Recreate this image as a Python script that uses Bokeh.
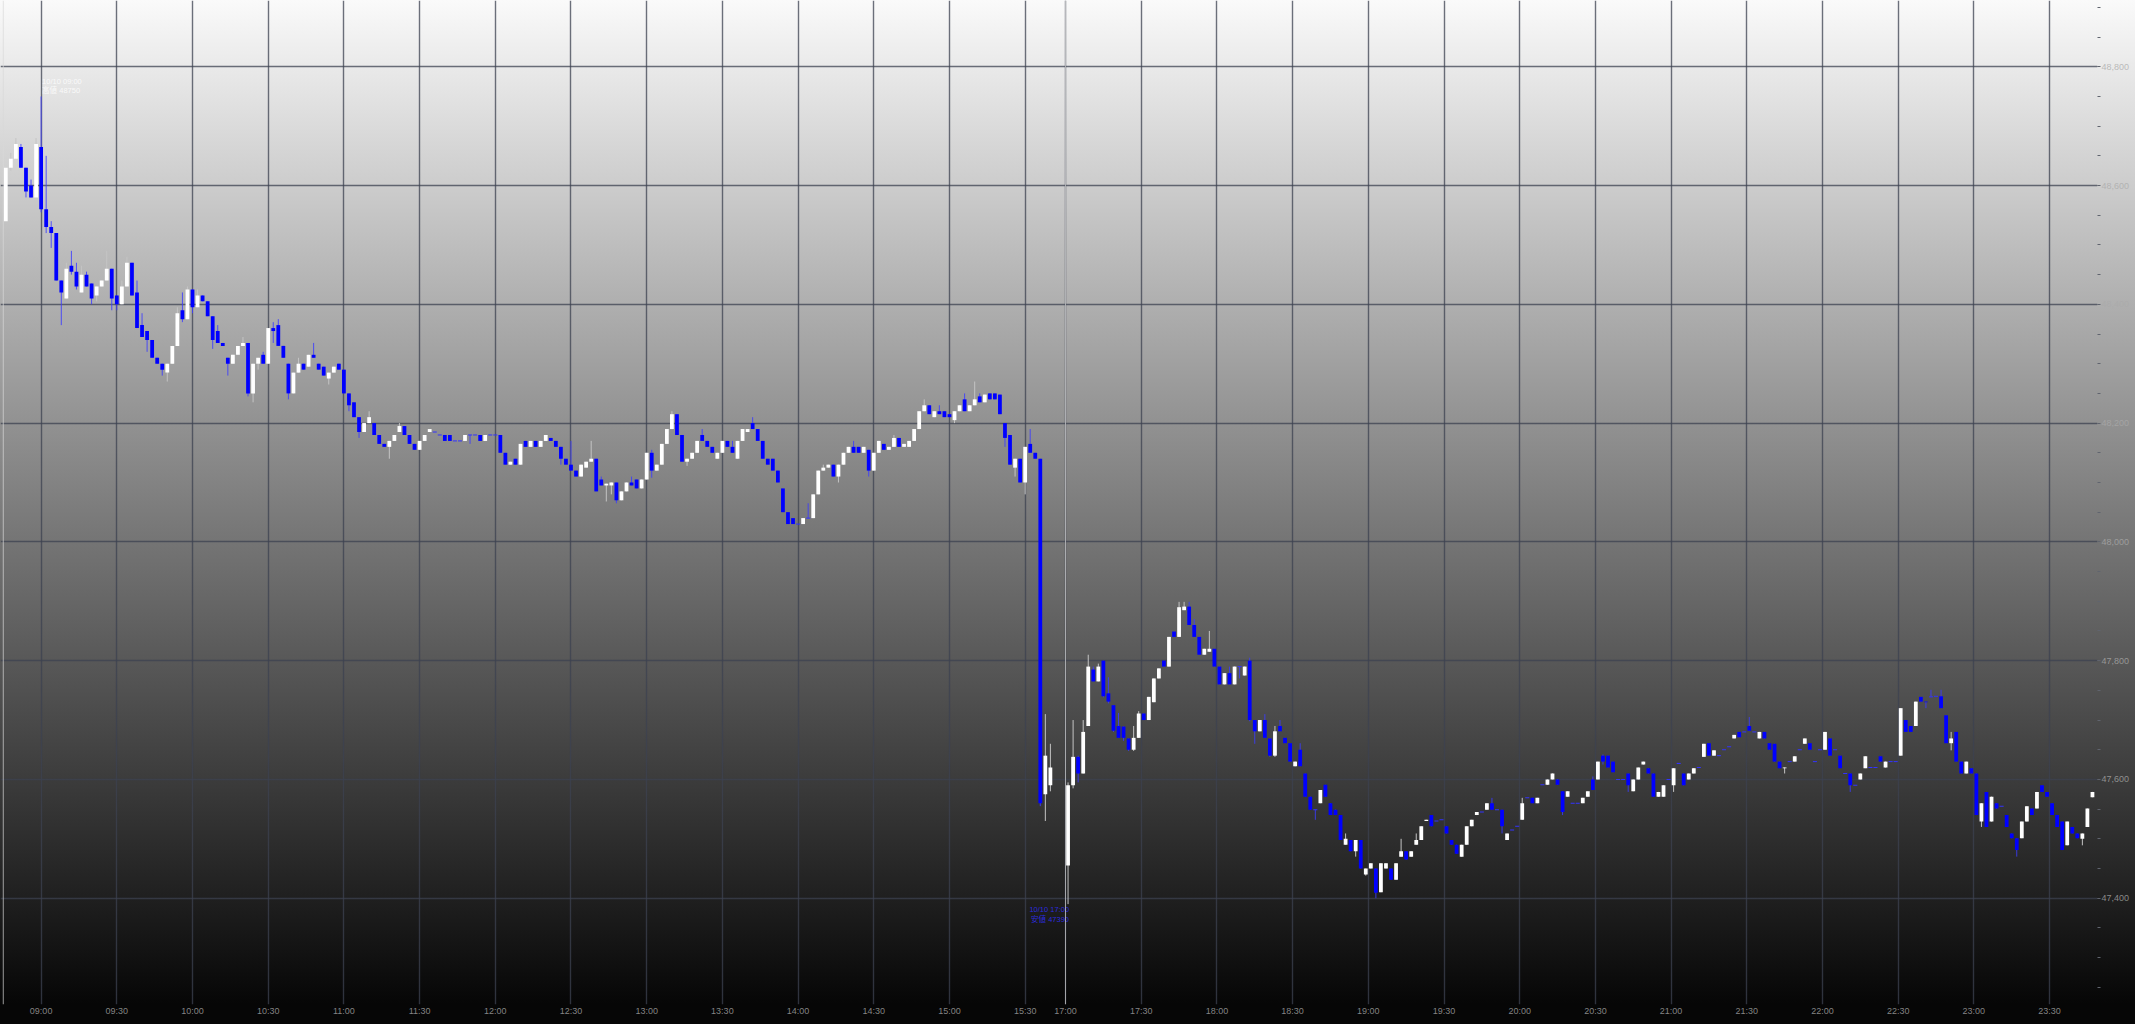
from bokeh.plotting import figure
from bokeh.models import (ColumnDataSource, Range1d, FixedTicker, SingleIntervalTicker,
                          NumeralTickFormatter, Span, GlobalInlineStyleSheet)
from bokeh.core.properties import value
from bokeh.embed import file_html
from bokeh.resources import INLINE

# ---------------- data (2-minute bars) ----------------
# day session 08:45 - 15:40, bar k covers minutes 2k..2k+1 after 08:45
day_open = [
    48540, 48630, 48645, 48665, 48630, 48600, 48580, 48665, 48560, 48530,
    48520, 48440, 48410, 48465, 48455, 48420, 48450, 48435, 48415, 48430,
    48440, 48460, 48415, 48400, 48430, 48470, 48420, 48365, 48355, 48340,
    48310, 48300, 48285, 48300, 48330, 48390, 48375, 48425, 48395, 48415,
    48405, 48380, 48355, 48335, 48310, 48300, 48315, 48330, 48335, 48250,
    48300, 48315, 48300, 48360, 48365, 48330, 48300, 48250, 48285, 48300,
    48295, 48315, 48300, 48295, 48275, 48285, 48300, 48290, 48250, 48235,
    48210, 48185, 48200, 48200, 48180, 48165, 48160, 48170, 48185, 48195,
    48180, 48165, 48155, 48170, 48185, 48185, 48180, 48180, 48180, 48170,
    48170, 48170, 48180, 48180, 48180, 48170, 48180, 48180, 48180, 48150,
    48130, 48140, 48130, 48170, 48160, 48170, 48160, 48170, 48175, 48170,
    48160, 48140, 48130, 48120, 48110, 48125, 48135, 48140, 48105, 48095,
    48095, 48100, 48070, 48085, 48100, 48105, 48090, 48105, 48150, 48120,
    48130, 48165, 48190, 48215, 48180, 48135, 48140, 48150, 48180, 48170,
    48160, 48140, 48150, 48170, 48160, 48140, 48170, 48185, 48200, 48190,
    48170, 48140, 48140, 48120, 48090, 48050, 48040, 48030, 48030, 48040,
    48040, 48080, 48120, 48125, 48130, 48110, 48130, 48150, 48160, 48160,
    48150, 48155, 48120, 48150, 48165, 48155, 48160, 48175, 48160, 48160,
    48170, 48190, 48220, 48230, 48210, 48220, 48220, 48215, 48205, 48220,
    48240, 48220, 48230, 48245, 48235, 48250, 48250, 48248, 48200, 48180,
    48125, 48140, 48100, 48165, 48150, 48140, 47575, 47590,
]
day_close = [
    48630, 48645, 48670, 48630, 48590, 48580, 48670, 48560, 48530, 48520,
    48440, 48420, 48460, 48455, 48430, 48450, 48430, 48410, 48430, 48440,
    48460, 48410, 48400, 48430, 48470, 48415, 48360, 48345, 48340, 48310,
    48300, 48290, 48300, 48330, 48385, 48375, 48425, 48395, 48415, 48405,
    48380, 48340, 48335, 48330, 48300, 48315, 48330, 48335, 48250, 48300,
    48310, 48300, 48360, 48355, 48330, 48310, 48250, 48285, 48300, 48290,
    48315, 48310, 48290, 48280, 48285, 48295, 48290, 48250, 48230, 48210,
    48185, 48200, 48210, 48180, 48165, 48160, 48170, 48180, 48195, 48180,
    48165, 48155, 48170, 48180, 48190, 48185, 48180, 48170, 48170, 48170,
    48170, 48180, 48180, 48180, 48170, 48180, 48180, 48180, 48150, 48130,
    48135, 48130, 48165, 48160, 48170, 48160, 48170, 48180, 48170, 48160,
    48140, 48130, 48120, 48110, 48130, 48135, 48140, 48085, 48095, 48098,
    48100, 48070, 48085, 48100, 48095, 48090, 48105, 48150, 48120, 48130,
    48165, 48190, 48215, 48180, 48135, 48140, 48150, 48170, 48170, 48160,
    48150, 48150, 48170, 48160, 48150, 48170, 48190, 48190, 48190, 48170,
    48140, 48130, 48120, 48100, 48050, 48030, 48030, 48030, 48040, 48040,
    48080, 48120, 48125, 48130, 48110, 48130, 48150, 48160, 48150, 48150,
    48160, 48120, 48150, 48170, 48155, 48160, 48175, 48160, 48165, 48170,
    48190, 48220, 48230, 48215, 48220, 48215, 48210, 48210, 48220, 48230,
    48220, 48230, 48240, 48235, 48248, 48240, 48240, 48215, 48175, 48130,
    48140, 48100, 48160, 48150, 48140, 47560, 47640, 47620,
]
# wick extremes beyond the body (bar index -> price)
day_high_wick = {1: 48655, 2: 48680, 3: 48670, 5: 48610, 6: 48680, 7: 48750, 8: 48650,
                 9: 48540, 12: 48470, 13: 48490, 14: 48470, 15: 48465, 16: 48455, 20: 48490,
                 23: 48440, 24: 48480, 26: 48440, 27: 48385, 34: 48395, 35: 48420, 36: 48430,
                 38: 48425, 42: 48365, 47: 48345, 51: 48320, 53: 48370, 54: 48375, 58: 48310,
                 61: 48335, 72: 48220, 78: 48200, 112: 48170, 116: 48170, 118: 48110,
                 124: 48110, 128: 48155, 132: 48220, 138: 48190, 144: 48170, 148: 48210,
                 159: 48065, 162: 48130, 168: 48170, 176: 48180, 182: 48240, 185: 48230,
                 190: 48250, 192: 48270, 193: 48250, 203: 48190, 206: 47710, 207: 47660}
day_low_wick = {0: 48535, 1: 48625, 4: 48580, 7: 48555, 8: 48520, 9: 48495, 11: 48365,
                13: 48450, 14: 48425, 17: 48400, 18: 48405, 21: 48390, 22: 48390, 28: 48320,
                31: 48280, 32: 48270, 35: 48370, 37: 48385, 41: 48325, 44: 48280, 48: 48245,
                49: 48235, 50: 48290, 53: 48335, 56: 48240, 64: 48265, 68: 48220, 70: 48175,
                76: 48140, 92: 48165, 110: 48130, 119: 48068, 120: 48080, 121: 48065,
                128: 48108, 135: 48128, 165: 48100, 171: 48110, 188: 48200, 198: 48160,
                200: 48110, 202: 48080, 205: 47555, 206: 47530, 207: 47580}

# night session 17:00 - 23:47, bar j covers minutes 2j..2j+1 after 17:00
night_open = [
    47455, 47590, 47638, 47610, 47690, 47785, 47765, 47800, 47745, 47725,
    47690, 47689, 47669, 47650, 47670, 47711, 47700, 47730, 47770, 47800,
    47790, 47849, 47840, 47885, 47891, 47860, 47840, 47810, 47815, 47820,
    47790, 47760, 47779, 47760, 47790, 47775, 47800, 47700, 47681, 47700,
    47669, 47640, 47690, 47670, 47661, 47622, 47650, 47610, 47571, 47549,
    47560, 47591, 47560, 47549, 47540, 47490, 47498, 47479, 47498, 47440,
    47450, 47450, 47410, 47450, 47450, 47431, 47470, 47479, 47470, 47490,
    47498, 47530, 47540, 47530, 47532, 47521, 47498, 47490, 47470, 47490,
    47521, 47540, 47545, 47549, 47560, 47549, 47549, 47498, 47515, 47521,
    47532, 47569, 47569, 47560, 47591, 47591, 47600, 47600, 47580, 47571,
    47560, 47560, 47560, 47571, 47600, 47600, 47640, 47640, 47630, 47600,
    47600, 47610, 47580, 47600, 47625, 47619, 47610, 47571, 47571, 47600,
    47590, 47627, 47610, 47600, 47610, 47620, 47638, 47661, 47640, 47640,
    47650, 47655, 47669, 47680, 47680, 47690, 47680, 47669, 47680, 47661,
    47660, 47630, 47619, 47630, 47630, 47650, 47660, 47661, 47630, 47650,
    47650, 47669, 47650, 47640, 47610, 47610, 47590, 47600, 47619, 47620,
    47620, 47639, 47620, 47630, 47630, 47640, 47700, 47690, 47690, 47739,
    47731, 47739, 47740, 47740, 47708, 47661, 47680, 47630, 47610, 47619,
    47610, 47529, 47579, 47529, 47560, 47555, 47540, 47509, 47501, 47501,
    47529, 47551, 47551, 47590, 47579, 47560, 47540, 47529, 47489, 47520,
    47509, 47500, 47520, 47570,
]
night_close = [
    47590, 47638, 47610, 47680, 47790, 47765, 47790, 47740, 47731, 47682,
    47670, 47670, 47650, 47670, 47711, 47700, 47739, 47770, 47787, 47790,
    47840, 47840, 47890, 47891, 47860, 47840, 47810, 47820, 47820, 47790,
    47760, 47779, 47760, 47790, 47790, 47790, 47700, 47681, 47700, 47670,
    47640, 47681, 47681, 47661, 47630, 47630, 47622, 47571, 47549, 47549,
    47582, 47571, 47540, 47540, 47498, 47500, 47479, 47498, 47450, 47450,
    47459, 47409, 47459, 47459, 47431, 47459, 47479, 47465, 47479, 47498,
    47521, 47532, 47521, 47530, 47532, 47509, 47490, 47475, 47490, 47521,
    47532, 47545, 47545, 47560, 47549, 47549, 47521, 47509, 47515, 47521,
    47560, 47569, 47560, 47569, 47591, 47600, 47610, 47591, 47545, 47580,
    47560, 47560, 47569, 47580, 47582, 47630, 47630, 47620, 47612, 47600,
    47600, 47590, 47600, 47620, 47630, 47610, 47571, 47579, 47590, 47600,
    47619, 47627, 47590, 47610, 47619, 47620, 47660, 47640, 47649, 47640,
    47650, 47655, 47675, 47671, 47680, 47682, 47680, 47680, 47669, 47650,
    47630, 47619, 47620, 47630, 47639, 47650, 47669, 47650, 47630, 47650,
    47680, 47640, 47650, 47619, 47610, 47590, 47590, 47610, 47639, 47620,
    47620, 47630, 47630, 47630, 47630, 47720, 47680, 47680, 47731, 47731,
    47730, 47739, 47740, 47720, 47661, 47669, 47630, 47610, 47630, 47610,
    47540, 47560, 47520, 47571, 47551, 47555, 47520, 47501, 47481, 47529,
    47555, 47540, 47579, 47579, 47571, 47540, 47520, 47481, 47529, 47509,
    47501, 47509, 47551, 47579,
]
night_high_wick = {0: 47595, 1: 47700, 2: 47640, 3: 47700, 4: 47810, 5: 47790, 6: 47795,
                   8: 47772, 10: 47712, 13: 47690, 14: 47715, 22: 47899, 23: 47899, 24: 47899,
                   25: 47870, 28: 47850, 32: 47790, 36: 47805, 39: 47710, 41: 47690, 42: 47700,
                   46: 47661, 55: 47509, 66: 47500, 69: 47509, 84: 47569, 90: 47569,
                   104: 47605, 106: 47642, 135: 47705, 171: 47751, 173: 47751, 175: 47680}
night_low_wick = {0: 47390, 1: 47585, 2: 47595, 7: 47738, 8: 47728, 9: 47680, 11: 47665,
                  12: 47648, 13: 47648, 34: 47770, 36: 47698, 37: 47660, 40: 47638, 41: 47638,
                  49: 47532, 57: 47470, 59: 47438, 61: 47400, 86: 47509, 98: 47540, 106: 47625,
                  111: 47579, 120: 47579, 142: 47610, 155: 47579, 170: 47720, 175: 47649,
                  181: 47520, 188: 47470, 201: 47489}

# time axis: minutes on a session-compressed scale (08:45 = 0, 17:00 = 421)
day_start_pos = 0
night_start_pos = 421
tick_labels = ["09:00", "09:30", "10:00", "10:30", "11:00", "11:30", "12:00", "12:30",
               "13:00", "13:30", "14:00", "14:30", "15:00", "15:30",
               "17:00", "17:30", "18:00", "18:30", "19:00", "19:30", "20:00", "20:30",
               "21:00", "21:30", "22:00", "22:30", "23:00", "23:30"]
tick_pos = [15 + 30 * i for i in range(14)] + [421 + 30 * i for i in range(14)]

high_note = ["10/10 09:00\n高値 48750"]
low_note = ["10/10 17:00\n安値 47390"]

# ---------------- build candles ----------------
up = dict(x=[], top=[], bottom=[])
down = dict(x=[], top=[], bottom=[])
doji = dict(x=[], y=[])
wick_up = dict(x=[], y0=[], y1=[])
wick_dn = dict(x=[], y0=[], y1=[])


def add_session(opens, closes, hw, lw, start):
    for i, (o, c) in enumerate(zip(opens, closes)):
        x = start + 2 * i + 1
        hi = max(o, c, hw.get(i, o))
        lo = min(o, c, lw.get(i, o))
        w = wick_up if c > o else wick_dn
        if hi > lo:
            w["x"].append(x); w["y0"].append(lo); w["y1"].append(hi)
        if c > o:
            up["x"].append(x); up["top"].append(c); up["bottom"].append(o)
        elif c < o:
            down["x"].append(x); down["top"].append(o); down["bottom"].append(c)
        else:
            doji["x"].append(x); doji["y"].append(o)


add_session(day_open, day_close, day_high_wick, day_low_wick, day_start_pos)
add_session(night_open, night_close, night_high_wick, night_low_wick, night_start_pos)

# ---------------- figure ----------------
p = figure(frame_width=2097, frame_height=1004,
           x_range=Range1d(-1.1, 830), y_range=Range1d(47221, 48911.6),
           output_backend="svg", toolbar_location=None, y_axis_location="right",
           min_border_left=0, min_border_top=0, min_border_right=38, min_border_bottom=20,
           background_fill_alpha=0, border_fill_alpha=0, outline_line_color=None)

grad = "linear-gradient(180deg, #fafafa 0px, #7e7e7e 502px, #060606 1004px, #060606 1030px)"
p.stylesheets = [GlobalInlineStyleSheet(
    css="html,body{overflow:hidden;} html{background:#060606 " + grad + " no-repeat;} "
        "body{background:transparent;}")]
p.styles = {"background": grad}

grid_color = "#3c4150"
p.xgrid.ticker = FixedTicker(ticks=tick_pos)
p.xgrid.grid_line_color = grid_color
p.xgrid.grid_line_alpha = 0.75
p.xgrid.grid_line_width = 1.4
p.ygrid.ticker = SingleIntervalTicker(interval=200)
p.ygrid.grid_line_color = grid_color
p.ygrid.grid_line_alpha = 0.75
p.ygrid.grid_line_width = 1.4

for loc in (day_start_pos, night_start_pos):
    p.add_layout(Span(location=loc, dimension="height", line_color="#d8d8d8",
                      line_alpha=0.7, line_width=1))

# axes
xa = p.xaxis[0]
xa.ticker = FixedTicker(ticks=tick_pos)
xa.major_label_overrides = {pos: lab for pos, lab in zip(tick_pos, tick_labels)}
xa.axis_line_color = None
xa.major_tick_line_color = None
xa.minor_tick_line_color = None
xa.major_tick_in = 0
xa.major_tick_out = 0
xa.minor_tick_out = 0
xa.major_label_text_color = "#aaaaaa"
xa.major_label_text_alpha = 0.78
xa.major_label_text_font = "Liberation Sans"
xa.major_label_text_font_size = "9px"
xa.major_label_standoff = 1

ya = p.yaxis[0]
ya.ticker = SingleIntervalTicker(interval=200, num_minor_ticks=4)
ya.formatter = NumeralTickFormatter(format="0,0")
ya.axis_line_color = None
ya.major_tick_line_color = "#60646e"
ya.minor_tick_line_color = "#60646e"
ya.major_tick_in = 0
ya.major_tick_out = 2
ya.minor_tick_in = 0
ya.minor_tick_out = 3
ya.major_label_text_color = "#aaaaaa"
ya.major_label_text_alpha = 0.78
ya.major_label_text_font = "Liberation Sans"
ya.major_label_text_font_size = "9px"
ya.major_label_standoff = 1

# candles
p.segment(x0="x", y0="y0", x1="x", y1="y1", source=ColumnDataSource(wick_up),
          line_color="#c4c4c4", line_width=1)
p.segment(x0="x", y0="y0", x1="x", y1="y1", source=ColumnDataSource(wick_dn),
          line_color="#3c3cff", line_alpha=0.85, line_width=1)
p.vbar(x="x", top="top", bottom="bottom", width=1.5, source=ColumnDataSource(up),
       fill_color="#ffffff", line_color=None)
p.vbar(x="x", top="top", bottom="bottom", width=1.5, source=ColumnDataSource(down),
       fill_color="#0000ff", line_color=None)
p.rect(x="x", y="y", width=1.6, height=1, height_units="screen",
       source=ColumnDataSource(doji), fill_color="#3333ff", line_color=None)

# annotations
p.text(x=[day_start_pos + 15], y=[48750], text=high_note, text_color="#ffffff", text_alpha=0.8,
       text_font=value("Liberation Sans, Noto Sans CJK JP"), text_font_size="7.5px",
       text_align="left", text_baseline="bottom", x_offset=1, y_offset=-1,
       text_line_height=1.05)
p.text(x=[night_start_pos + 1], y=[47390], text=low_note, text_color="#2f2fff", text_alpha=0.85,
       text_font=value("Liberation Sans, Noto Sans CJK JP"), text_font_size="7.5px",
       text_align="right", text_baseline="top", x_offset=1, y_offset=1,
       text_line_height=1.05)

open("out.html", "w").write(file_html(p, INLINE))
